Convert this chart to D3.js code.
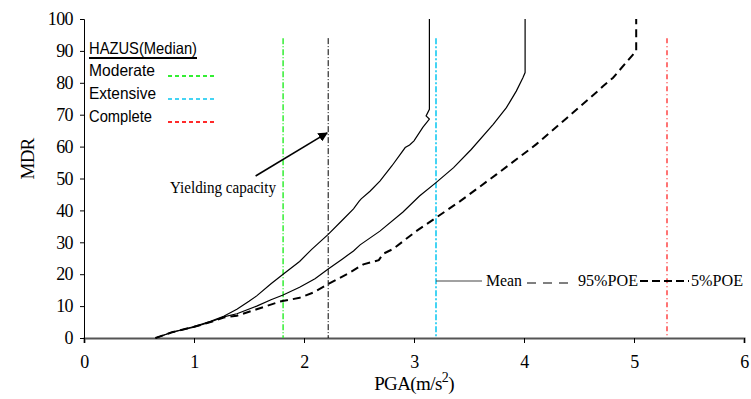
<!DOCTYPE html>
<html>
<head>
<meta charset="utf-8">
<script src="https://cdn.jsdelivr.net/npm/d3@7"></script>
<style>
  html, body { margin: 0; padding: 0; background: #fff; }
  svg { display: block; }
</style>
</head>
<body>
<svg id="chart" width="751" height="399"></svg>
<script>
// Mean damage ratio (MDR, %) against peak ground acceleration (PGA, m/s^2)
const upperCurve = [
  [0.65, 0], [0.8, 1.8], [1.0, 3.6], [1.15, 5.2], [1.27, 6.8], [1.39, 9.0],
  [1.5, 11.5], [1.57, 13.2], [1.7, 17.0], [1.81, 20.0], [1.96, 24.0], [2.07, 27.8],
  [2.22, 32.5], [2.35, 37.0], [2.45, 40.5], [2.5, 42.8], [2.52, 43.6], [2.6, 46.0],
  [2.69, 49.2], [2.8, 54.0], [2.92, 59.7], [2.96, 60.5], [3.0, 61.8], [3.08, 66.0],
  [3.14, 68.6], [3.11, 69.6], [3.14, 71.7], [3.14, 100]
];
const meanCurve = [
  [0.65, 0], [0.8, 1.8], [1.0, 3.4], [1.15, 5.0], [1.27, 6.6], [1.39, 7.6],
  [1.57, 10.0], [1.7, 12.0], [1.81, 13.5], [1.96, 15.9], [2.1, 18.6], [2.22, 21.6],
  [2.35, 24.8], [2.45, 27.3], [2.51, 29.2], [2.69, 33.5], [2.9, 39.5], [3.05, 44.5],
  [3.2, 48.7], [3.36, 53.4], [3.52, 59.1], [3.72, 67.0], [3.84, 72.2], [3.93, 77.4],
  [3.99, 81.6], [4.01, 83.2], [4.01, 100]
];
const poe5Curve = [
  [0.65, 0], [0.8, 1.8], [1.0, 3.5], [1.15, 5.0], [1.27, 6.4], [1.39, 7.0],
  [1.57, 9.0], [1.78, 11.4], [1.96, 12.6], [2.08, 14.2], [2.22, 16.9], [2.4, 20.2],
  [2.54, 23.1], [2.68, 24.4], [2.72, 26.4], [2.81, 27.9], [3.02, 33.5], [3.2, 37.7],
  [3.42, 42.9], [3.75, 51.3], [4.05, 59.1], [4.11, 60.7], [4.39, 69.0], [4.69, 78.0],
  [4.72, 79.0], [4.81, 81.6], [5.02, 90.0], [5.02, 100]
];

// HAZUS median PGA for each damage state, plus the yielding capacity
const hazusStates = ["Moderate", "Extensive", "Complete"];
const hazusPGA = [1.81, 3.2, 5.3];
const hazusColors = ["#33ee33", "#44d4f4", "#ff2a2a"];
const yieldingPGA = 2.22;
const markerTop = 94;

// Annotation arrow (PGA, MDR) from label to yielding line
const arrowFrom = [1.56, 50.8];
const arrowTo = [2.21, 64.3];

const xTicks = [0, 1, 2, 3, 4, 5, 6];
const yTicks = [0, 10, 20, 30, 40, 50, 60, 70, 80, 90, 100];

const svg = d3.select("#chart");
svg.append("rect").attr("width", 751).attr("height", 399).attr("fill", "#fff");

const x = d3.scaleLinear().domain([0, 6]).range([84, 744]);
const y = d3.scaleLinear().domain([0, 100]).range([338, 19]);

const serif = "'Liberation Serif', 'Times New Roman', serif";
const sans = "'Liberation Sans', Arial, sans-serif";

// Axes
const xAxis = svg.append("g").attr("transform", `translate(0,${y(0)})`)
  .call(d3.axisBottom(x).tickValues(xTicks).tickFormat(d3.format("d")).tickSize(5).tickPadding(12));
const yAxis = svg.append("g").attr("transform", `translate(${x(0)},0)`)
  .call(d3.axisLeft(y).tickValues(yTicks).tickFormat(d3.format("d")).tickSize(4).tickPadding(7));
[xAxis, yAxis].forEach(g => {
  g.selectAll("text").attr("font-family", serif).attr("font-size", 18).attr("fill", "#000")
    .attr("letter-spacing", "-0.6px");
  g.selectAll("line").attr("stroke", "#000");
});
xAxis.select(".domain").attr("stroke", "#555").attr("stroke-width", 2);
yAxis.select(".domain").attr("stroke", "#000").attr("stroke-width", 1);

// Axis titles
const xTitle = svg.append("text").attr("x", 414).attr("y", 390).attr("text-anchor", "middle")
  .attr("font-family", serif).attr("font-size", 19).attr("letter-spacing", "-0.6px");
xTitle.append("tspan").text("PGA(m/s");
xTitle.append("tspan").attr("dy", -8).attr("font-size", 14).text("2");
xTitle.append("tspan").attr("dy", 8).text(")");

svg.append("text").attr("transform", "translate(34,159) rotate(-90)")
  .attr("text-anchor", "middle").attr("font-family", serif).attr("font-size", 19)
  .attr("letter-spacing", "-0.8px").text("MDR");

// HAZUS median and yielding markers
const dashFor = ["6,2,1,2", "6,2,2,2", "5,3,1,3"];
const widthFor = [1.5, 2, 1.3];
hazusPGA.forEach((p, i) => {
  svg.append("line").attr("x1", x(p)).attr("x2", x(p)).attr("y1", y(markerTop)).attr("y2", y(0))
    .attr("stroke", hazusColors[i]).attr("stroke-width", widthFor[i]).attr("stroke-dasharray", dashFor[i]);
});
svg.append("line").attr("x1", x(yieldingPGA)).attr("x2", x(yieldingPGA))
  .attr("y1", y(markerTop)).attr("y2", y(0))
  .attr("stroke", "#000").attr("stroke-width", 1).attr("stroke-dasharray", "6,2,1,2");

// Damage curves
const line = d3.line().x(d => x(d[0])).y(d => y(d[1]));
svg.append("path").datum(upperCurve).attr("d", line).attr("fill", "none")
  .attr("stroke", "#000").attr("stroke-width", 1.2);
svg.append("path").datum(meanCurve).attr("d", line).attr("fill", "none")
  .attr("stroke", "#000").attr("stroke-width", 1.2);
svg.append("path").datum(poe5Curve).attr("d", line).attr("fill", "none")
  .attr("stroke", "#000").attr("stroke-width", 2).attr("stroke-dasharray", "8,5");

// Yielding capacity annotation
svg.append("defs").append("marker").attr("id", "head")
  .attr("viewBox", "0 0 10 10").attr("refX", 9).attr("refY", 5)
  .attr("markerWidth", 6).attr("markerHeight", 6).attr("orient", "auto")
  .append("path").attr("d", "M0,0 L10,5 L0,10 z").attr("fill", "#000");
svg.append("line").attr("x1", x(arrowFrom[0])).attr("y1", y(arrowFrom[1]))
  .attr("x2", x(arrowTo[0])).attr("y2", y(arrowTo[1]))
  .attr("stroke", "#000").attr("stroke-width", 1.6).attr("marker-end", "url(#head)");
svg.append("text").attr("x", 170).attr("y", 193).attr("font-family", serif)
  .attr("font-size", 16).attr("textLength", 106).attr("lengthAdjust", "spacingAndGlyphs")
  .text("Yielding capacity");

// HAZUS legend
svg.append("text").attr("x", 89).attr("y", 54).attr("font-family", sans).attr("font-size", 16.5)
  .attr("textLength", 108).attr("lengthAdjust", "spacingAndGlyphs").text("HAZUS(Median)");
svg.append("line").attr("x1", 89).attr("x2", 197).attr("y1", 58).attr("y2", 58)
  .attr("stroke", "#000").attr("stroke-width", 2);
const stateWidths = [66, 67, 63];
hazusStates.forEach((s, i) => {
  const ty = 76 + i * 23;
  svg.append("text").attr("x", 89).attr("y", ty).attr("font-family", sans).attr("font-size", 16.5)
    .attr("textLength", stateWidths[i]).attr("lengthAdjust", "spacingAndGlyphs").text(s);
  svg.append("line").attr("x1", 168).attr("x2", 214).attr("y1", ty).attr("y2", ty)
    .attr("stroke", hazusColors[i]).attr("stroke-width", 2).attr("stroke-dasharray", "4,3");
});

// Curve legend
const legY = 281;
svg.append("line").attr("x1", 436).attr("x2", 482).attr("y1", legY).attr("y2", legY)
  .attr("stroke", "#444").attr("stroke-width", 1.2);
svg.append("text").attr("x", 486).attr("y", legY + 5).attr("font-family", serif).attr("font-size", 16)
  .attr("textLength", 36).attr("lengthAdjust", "spacingAndGlyphs").text("Mean");
svg.append("line").attr("x1", 527).attr("x2", 569).attr("y1", legY + 2).attr("y2", legY + 2)
  .attr("stroke", "#000").attr("stroke-width", 1).attr("stroke-dasharray", "9,7");
svg.append("text").attr("x", 578).attr("y", legY + 5).attr("font-family", serif).attr("font-size", 16)
  .attr("textLength", 60).attr("lengthAdjust", "spacingAndGlyphs").text("95%POE");
svg.append("line").attr("x1", 640).attr("x2", 689).attr("y1", legY).attr("y2", legY)
  .attr("stroke", "#000").attr("stroke-width", 2).attr("stroke-dasharray", "8,4");
svg.append("text").attr("x", 691).attr("y", legY + 5).attr("font-family", serif).attr("font-size", 16)
  .attr("textLength", 52).attr("lengthAdjust", "spacingAndGlyphs").text("5%POE");
</script>
</body>
</html>
